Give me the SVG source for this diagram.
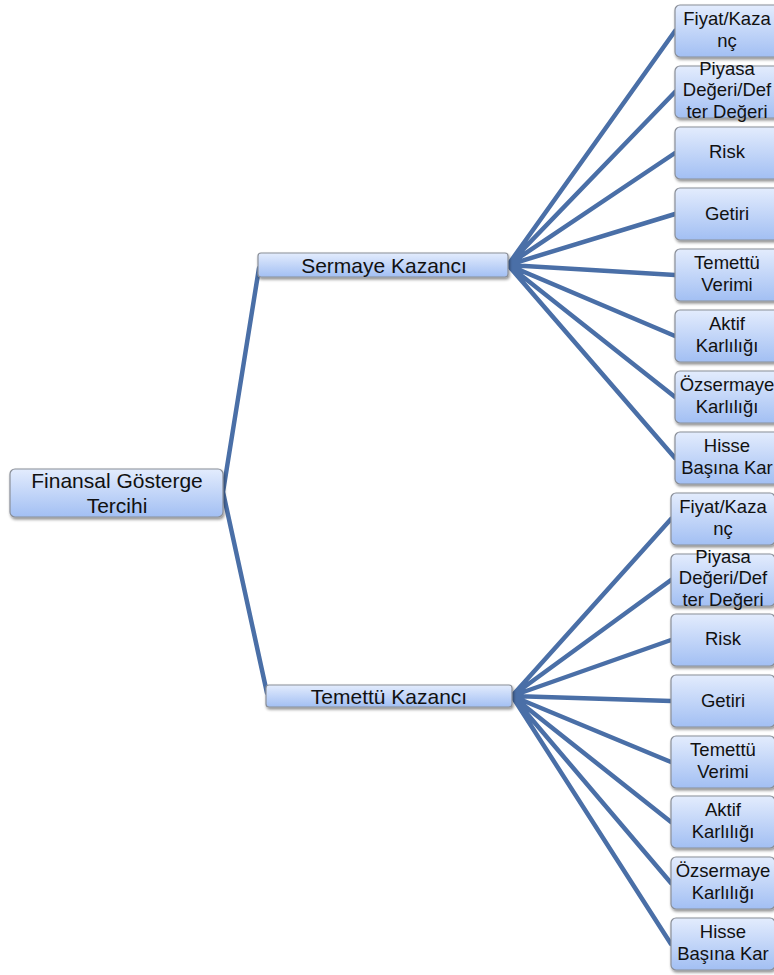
<svg xmlns="http://www.w3.org/2000/svg" width="774" height="975" viewBox="0 0 774 975">
<defs>
<linearGradient id="g" x1="0" y1="0" x2="0" y2="1">
<stop offset="0" stop-color="#e3ecfd"/>
<stop offset="1" stop-color="#a2bff3"/>
</linearGradient>
<filter id="sh" x="-10%" y="-20%" width="130%" height="160%">
<feGaussianBlur in="SourceAlpha" stdDeviation="1.5"/>
<feOffset dx="1" dy="2" result="b"/>
<feComponentTransfer><feFuncA type="linear" slope="0.45"/></feComponentTransfer>
<feMerge><feMergeNode/><feMergeNode in="SourceGraphic"/></feMerge>
</filter>
</defs>
<style>
.box{fill:url(#g);stroke:#8a8f98;stroke-width:1.2;filter:url(#sh)}
.t{font-family:"Liberation Sans",Arial,sans-serif;fill:#111;text-anchor:middle}
.big{font-size:21px}
.lf{font-size:18.5px}
.c{stroke:#4a6fa7;stroke-width:4.5;fill:none;stroke-linecap:round}
</style>
<rect width="774" height="975" fill="#fff"/>
<g id="connectors">
<path class="c" d="M223 492 L259 268 M223 492 L267 693"/>
<path class="c" d="M508 265 L675 31 M508 265 L675 92 M508 265 L675 153 M508 265 L675 214 M508 265 L675 275 M508 265 L675 336 M508 265 L675 397 M508 265 L675 458"/>
<path class="c" d="M512 696 L671 519 M512 696 L671 580 M512 696 L671 640 M512 696 L671 701 M512 696 L671 762 M512 696 L671 822 M512 696 L671 883 M512 696 L671 944"/>
</g>
<g id="root"><rect class="box" x="10" y="469" width="213" height="48" rx="5"/><text class="t big" x="117" y="488">Finansal Gösterge</text><text class="t big" x="117" y="513">Tercihi</text></g>
<g id="sermaye"><rect class="box" x="258" y="253" width="250" height="24" rx="3"/><text class="t big" x="384" y="273">Sermaye Kazancı</text></g>
<g id="temettu"><rect class="box" x="266" y="685" width="246" height="22" rx="3"/><text class="t big" x="389" y="704">Temettü Kazancı</text></g>
<g id="s1"><rect class="box" x="675" y="5" width="104" height="52" rx="5"/><text class="t lf" x="727" y="25">Fiyat/Kaza</text><text class="t lf" x="727" y="47">nç</text></g>
<g id="s2"><rect class="box" x="675" y="66" width="104" height="52" rx="5"/><text class="t lf" x="727" y="75">Piyasa</text><text class="t lf" x="727" y="96">Değeri/Def</text><text class="t lf" x="727" y="118">ter Değeri</text></g>
<g id="s3"><rect class="box" x="675" y="127" width="104" height="52" rx="5"/><text class="t lf" x="727" y="158">Risk</text></g>
<g id="s4"><rect class="box" x="675" y="188" width="104" height="52" rx="5"/><text class="t lf" x="727" y="220">Getiri</text></g>
<g id="s5"><rect class="box" x="675" y="249" width="104" height="52" rx="5"/><text class="t lf" x="727" y="269">Temettü</text><text class="t lf" x="727" y="291">Verimi</text></g>
<g id="s6"><rect class="box" x="675" y="310" width="104" height="52" rx="5"/><text class="t lf" x="727" y="330">Aktif</text><text class="t lf" x="727" y="352">Karlılığı</text></g>
<g id="s7"><rect class="box" x="675" y="371" width="104" height="52" rx="5"/><text class="t lf" x="727" y="391">Özsermaye</text><text class="t lf" x="727" y="413">Karlılığı</text></g>
<g id="s8"><rect class="box" x="675" y="432" width="104" height="52" rx="5"/><text class="t lf" x="727" y="452">Hisse</text><text class="t lf" x="727" y="474">Başına Kar</text></g>
<g id="t1"><rect class="box" x="671" y="493" width="104" height="52" rx="5"/><text class="t lf" x="723" y="513">Fiyat/Kaza</text><text class="t lf" x="723" y="535">nç</text></g>
<g id="t2"><rect class="box" x="671" y="554" width="104" height="52" rx="5"/><text class="t lf" x="723" y="563">Piyasa</text><text class="t lf" x="723" y="584">Değeri/Def</text><text class="t lf" x="723" y="606">ter Değeri</text></g>
<g id="t3"><rect class="box" x="671" y="614" width="104" height="52" rx="5"/><text class="t lf" x="723" y="645">Risk</text></g>
<g id="t4"><rect class="box" x="671" y="675" width="104" height="52" rx="5"/><text class="t lf" x="723" y="707">Getiri</text></g>
<g id="t5"><rect class="box" x="671" y="736" width="104" height="52" rx="5"/><text class="t lf" x="723" y="756">Temettü</text><text class="t lf" x="723" y="778">Verimi</text></g>
<g id="t6"><rect class="box" x="671" y="796" width="104" height="52" rx="5"/><text class="t lf" x="723" y="816">Aktif</text><text class="t lf" x="723" y="838">Karlılığı</text></g>
<g id="t7"><rect class="box" x="671" y="857" width="104" height="52" rx="5"/><text class="t lf" x="723" y="877">Özsermaye</text><text class="t lf" x="723" y="899">Karlılığı</text></g>
<g id="t8"><rect class="box" x="671" y="918" width="104" height="52" rx="5"/><text class="t lf" x="723" y="938">Hisse</text><text class="t lf" x="723" y="960">Başına Kar</text></g>
</svg>
